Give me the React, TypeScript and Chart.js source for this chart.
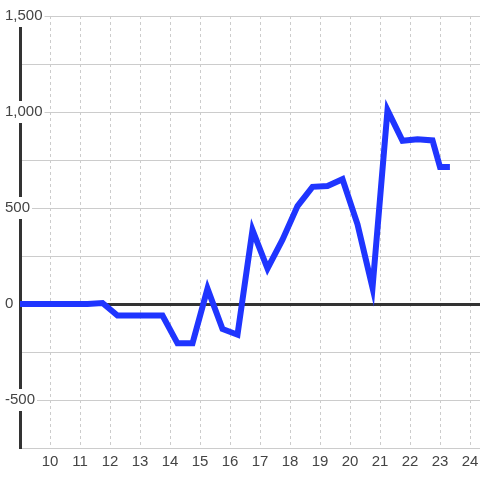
import React, { useEffect, useRef } from 'react';
import { Chart, registerables } from 'chart.js';

Chart.register(...registerables);

// Hours (x) and values (y) of the single series
const hours = [
  8.75, 9.25, 9.75, 10.25, 10.75, 11.25, 11.75, 12.25, 12.75, 13.25, 13.75,
  14.25, 14.75, 15.25, 15.75, 16.25, 16.75, 17.25, 17.75, 18.25, 18.75, 19.25,
  19.75, 20.25, 20.75, 21.25, 21.75, 22.25, 22.75, 23.0, 23.33,
];
const values = [
  0, 0, 0, 0, 0, 0, 5, -60, -60, -60, -60,
  -205, -205, 80, -130, -160, 385, 185, 335, 510, 610, 615,
  650, 415, 85, 1010, 850, 858, 852, 713, 713,
];
const xTicks = [10, 11, 12, 13, 14, 15, 16, 17, 18, 19, 20, 21, 22, 23, 24];
const yGridValues = [-750, -500, -250, 0, 250, 500, 750, 1000, 1250, 1500];
const yLabelValues = [-500, 0, 500, 1000, 1500];

const FONT = { family: '"Liberation Sans", Arial, sans-serif', size: 15 };
const TEXT = '#444444';

export default function App() {
  const ref = useRef<HTMLCanvasElement>(null);

  useEffect(() => {
    document.body.style.margin = '0';
    const points = hours.map((h, i) => ({ x: h, y: values[i] }));
    const chart = new Chart(ref.current as HTMLCanvasElement, {
      type: 'line',
      data: {
        datasets: [
          {
            data: points,
            borderColor: '#1f35ff',
            borderWidth: 6,
            pointRadius: 0,
            tension: 0,
            fill: false,
            borderJoinStyle: 'miter',
            borderCapStyle: 'butt',
          },
        ],
      },
      options: {
        animation: false,
        responsive: false,
        maintainAspectRatio: false,
        layout: { padding: { top: 16, right: 0, bottom: 0, left: 0 } },
        plugins: { legend: { display: false }, tooltip: { enabled: false } },
        scales: {
          x: {
            type: 'linear',
            min: 9,
            max: 24.333,
            afterBuildTicks: (s: any) => {
              s.ticks = xTicks.map((v) => ({ value: v }));
            },
            afterFit: (s: any) => {
              s.height = 32;
              s.paddingLeft = 0;
              s.paddingRight = 0;
            },
            grid: { color: '#cccccc', lineWidth: 1, drawTicks: false },
            border: { display: true, color: '#cccccc', width: 1, dash: [3, 3] },
            ticks: {
              color: TEXT,
              font: FONT,
              padding: 5,
              maxRotation: 0,
              autoSkip: false,
              callback: (v: any) => String(v),
            },
          },
          y: {
            type: 'linear',
            min: -750,
            max: 1500,
            afterBuildTicks: (s: any) => {
              s.ticks = yGridValues.map((v) => ({ value: v }));
            },
            afterFit: (s: any) => {
              s.width = 20;
            },
            grid: {
              color: (c: any) => (c.tick && c.tick.value === 0 ? '#333333' : '#cccccc'),
              lineWidth: (c: any) => (c.tick && c.tick.value === 0 ? 3 : 1),
              drawTicks: false,
            },
            border: { display: true, color: '#333333', width: 3 },
            ticks: {
              mirror: true,
              padding: -15,
              color: TEXT,
              font: FONT,
              autoSkip: false,
              showLabelBackdrop: (c: any) => yLabelValues.includes(c.tick.value),
              backdropColor: '#ffffff',
              backdropPadding: 2,
              callback: (v: any) =>
                yLabelValues.includes(Number(v)) ? Number(v).toLocaleString('en-US') : '',
            },
          },
        },
      },
    } as any);
    return () => chart.destroy();
  }, []);

  return (
    <div style={{ width: 480, height: 480, position: 'relative' }}>
      <canvas ref={ref} width={480} height={480} style={{ display: 'block' }} />
    </div>
  );
}
